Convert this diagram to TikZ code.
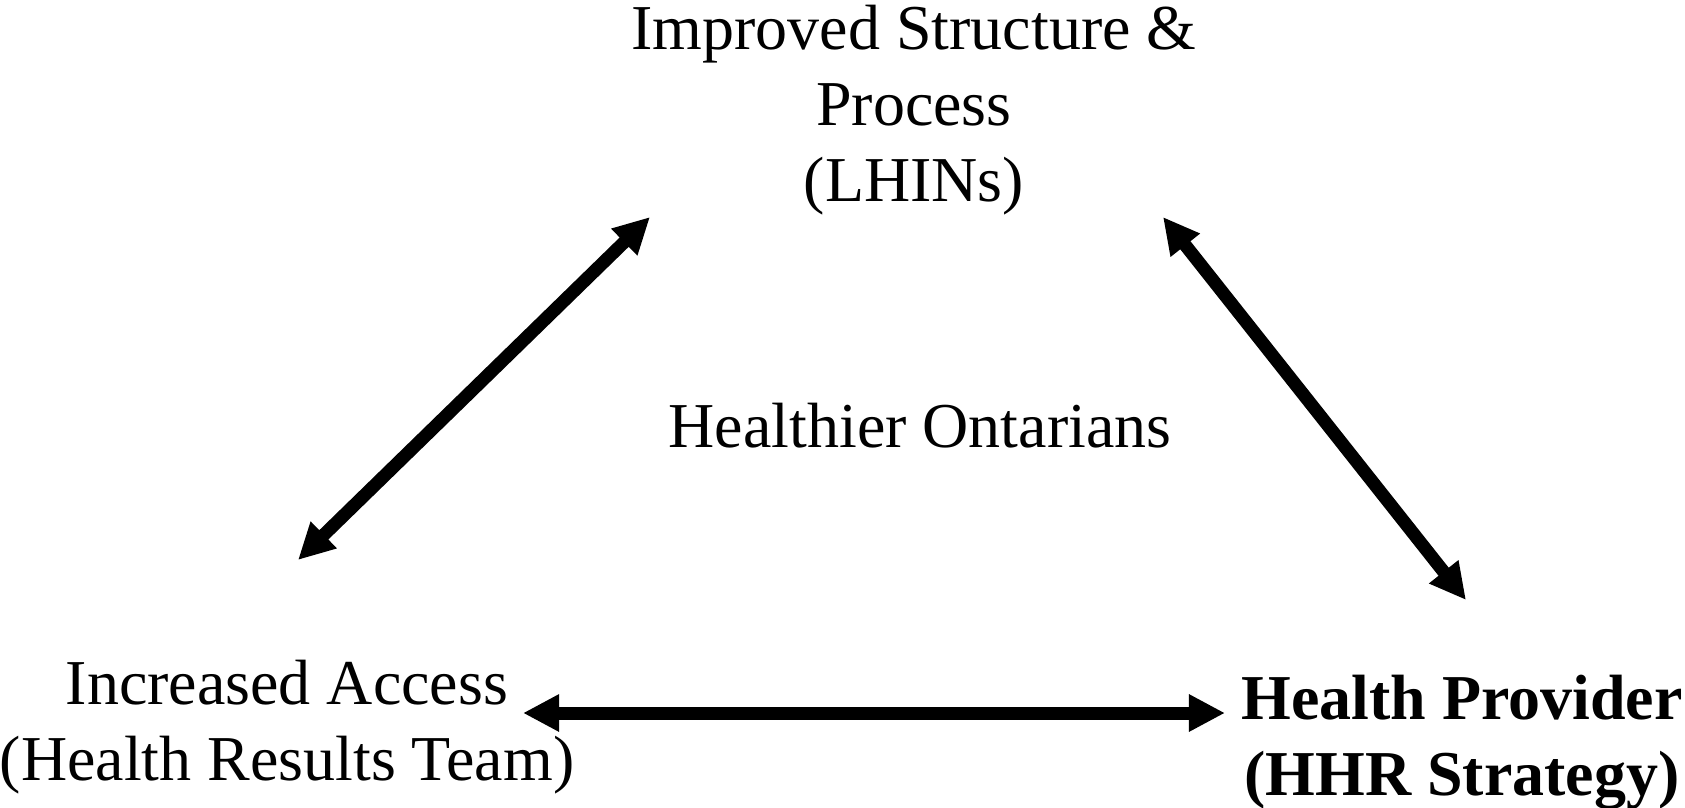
\documentclass[tikz,border=0pt]{standalone}
\usepackage{fontspec}
\setmainfont{Liberation Serif}
\usetikzlibrary{arrows.meta}

\tikzset{
  txt/.style={font=\fontsize{36.4}{43.2}\selectfont, align=center, inner sep=0pt, anchor=base},
  boldtxt/.style={txt, font=\fontsize{36.4}{43.2}\selectfont\bfseries},
  link/.style={line width=7.4pt, {Triangle[length=20.5pt,width=19.9pt]}-{Triangle[length=20.5pt,width=19.9pt]}}
}

\begin{document}
\begin{tikzpicture}[x=0.02cm,y=-0.02cm]
      \useasboundingbox (0,0) rectangle (1685,808);
      % the four labels (base = last line)
      \node[txt] (proc) at (914,201) {Improved Structure \&\\Process\\(LHINs)};
      \node[txt] (goal) at (920,447) {Healthier Ontarians};
      \node[txt] (access) at (287,780) {Increased Access\\(Health Results Team)};
      \node[boldtxt] (prov) at (1462,795) {Health Provider\\(HHR Strategy)};
      % arrow ends
      \coordinate (procL) at ([shift={(-264,16)}]proc.base);
      \coordinate (procR) at ([shift={(249,16)}]proc.base);
      \coordinate (accessT) at ([shift={(11,-220)}]access.base);
      \coordinate (accessR) at ([shift={(236,-67)}]access.base);
      \coordinate (provT) at ([shift={(4,-195)}]prov.base);
      \coordinate (provL) at ([shift={(-237,-82)}]prov.base);
      \draw[link] (accessT) -- (procL);
      \draw[link] (procR) -- (provT);
      \draw[link] (accessR) -- (provL);
\end{tikzpicture}
\end{document}
